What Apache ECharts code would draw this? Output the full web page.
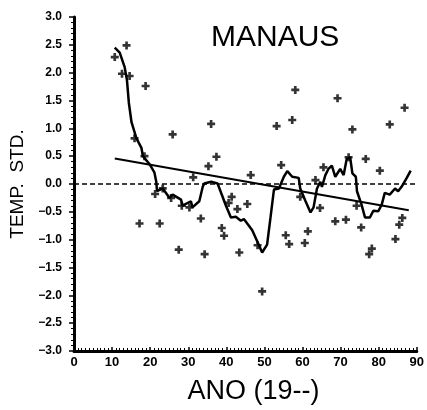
<!DOCTYPE html>
<html><head><meta charset="utf-8">
<script src="https://cdn.jsdelivr.net/npm/echarts@6/dist/echarts.min.js"></script>
<style>html,body{margin:0;padding:0;background:#fff}#c{width:427px;height:410px}</style>
</head><body><div id="c"></div>
<script>
// Annual standardized temperature anomalies (year 19xx, value)
var ptYears = [10.7,11.6,12.6,13.8,14.6,15.9,17.2,18.5,18.8,21.3,22.5,23.3,25.5,25.9,27.5,28.3,30.3,31.3,33.3,34.3,35.3,36.0,37.4,38.8,39.4,40.6,41.4,42.9,43.4,45.5,46.4,48.2,49.4,53.2,54.4,55.6,56.5,57.3,58.1,59.4,60.6,61.4,63.4,64.6,65.5,68.6,69.2,71.4,72.1,73.1,74.2,75.4,76.6,77.5,78.2,80.3,82.9,84.4,85.4,86.2,86.8];
var ptVals  = [2.28,3.03,1.98,2.49,1.94,0.82,-0.71,0.50,1.76,-0.18,-0.71,-0.08,-0.25,0.89,-1.18,-0.39,-0.42,0.12,-0.62,-1.26,0.32,1.08,0.49,-0.79,-0.93,-0.34,-0.23,-0.45,-1.23,-0.36,0.16,-1.10,-1.93,1.04,0.34,-0.92,-1.08,1.15,1.69,-0.23,-1.06,-0.85,0.07,-0.43,0.30,-0.67,1.54,-0.64,0.48,0.98,-0.39,-0.78,0.45,-1.26,-1.16,0.24,1.07,-0.99,-0.73,-0.61,1.37];
// Smoothed curve
var curveX = [10.7,12.0,13.3,13.9,14.4,15.1,16.4,17.7,18.1,19.8,21.1,21.6,21.8,22.3,23.3,25.1,25.9,28.1,28.5,30.7,31.1,32.9,33.8,34.2,36.0,37.7,39.9,41.2,42.5,43.8,44.6,46.8,48.1,49.4,50.7,51.6,52.5,53.8,55.1,56.0,57.3,59.0,59.4,60.8,62.1,62.9,63.8,64.7,65.1,66.0,66.8,67.7,68.6,69.9,70.8,71.6,72.5,73.1,74.0,74.3,75.5,76.4,77.7,78.6,79.9,80.8,81.6,82.9,84.3,85.1,86.0,87.3,88.4];
var curveY = [2.45,2.36,2.10,1.87,1.46,1.11,0.82,0.65,0.50,0.36,0.21,0.04,-0.13,-0.16,-0.08,-0.25,-0.19,-0.28,-0.39,-0.31,-0.42,-0.31,-0.05,0.01,0.04,0.01,-0.39,-0.60,-0.59,-0.66,-0.63,-0.83,-1.03,-1.23,-1.09,-0.60,-0.10,-0.08,0.13,0.23,0.13,0.11,-0.08,-0.31,-0.51,-0.42,-0.08,0.04,-0.05,0.16,0.27,0.33,0.13,0.27,0.16,0.45,0.48,0.19,0.13,-0.13,-0.37,-0.60,-0.60,-0.48,-0.49,-0.37,-0.16,-0.19,-0.08,-0.13,-0.05,0.10,0.24];
// Linear trend endpoints
var trendX = [10.7, 87.9];
var trendY = [0.46, -0.47];
// Zero reference line
var zeroX = [0, 90];
var zeroY = [0, 0];
var xTicks = [0,10,20,30,40,50,60,70,80,90];
var yTicks = [-3.0,-2.5,-2.0,-1.5,-1.0,-0.5,0.0,0.5,1.0,1.5,2.0,2.5,3.0];

function pairs(xs, ys){ return xs.map(function(x,i){ return [x, ys[i]]; }); }

var FONT = 'Liberation Sans';
var chart = echarts.init(document.getElementById('c'), null, {renderer:'canvas'});
chart.setOption({
  backgroundColor:'#fff',
  animation:false,
  title:{ text:'MANAUS', left:206, top:18,
    textStyle:{ fontFamily:FONT, fontSize:30, fontWeight:'normal', color:'#000' } },
  grid:{ left:74, right:9, top:17, bottom:47 },
  xAxis:{ type:'value', min:xTicks[0], max:xTicks[xTicks.length-1], interval:10,
    name:'ANO (19--)', nameLocation:'middle', nameGap:27,
    nameTextStyle:{ fontFamily:FONT, fontSize:27, color:'#000', padding:[0,0,0,16] },
    axisLine:{ show:true, onZero:false, lineStyle:{ color:'#000', width:3 } },
    axisTick:{ show:true, inside:true, length:4, lineStyle:{ color:'#000', width:1.5 } },
    minorTick:{ show:true, splitNumber:10, length:3, lineStyle:{ color:'#000', width:1 } },
    axisLabel:{ fontFamily:FONT, fontSize:13, fontWeight:'bold', color:'#000', margin:5 },
    splitLine:{ show:false } },
  yAxis:{ type:'value', min:yTicks[0], max:yTicks[yTicks.length-1], interval:0.5,
    name:'TEMP.  STD.', nameLocation:'middle', nameGap:47, nameRotate:90,
    nameTextStyle:{ fontFamily:FONT, fontSize:19, color:'#000' },
    axisLine:{ show:true, onZero:false, lineStyle:{ color:'#000', width:3 } },
    axisTick:{ show:true, inside:false, length:5, lineStyle:{ color:'#000', width:1.5 } },
    minorTick:{ show:true, splitNumber:5, length:3, lineStyle:{ color:'#000', width:1 } },
    axisLabel:{ fontFamily:FONT, fontSize:12, fontWeight:'bold', color:'#000', margin:12,
      formatter:function(v){ return v.toFixed(1).replace('-', '\u2212'); } },
    splitLine:{ show:false } },
  series:[
    { type:'line', data:pairs(zeroX, zeroY), symbol:'none', silent:true,
      lineStyle:{ color:'#000', width:1.5, type:[5,3] } },
    { type:'line', data:pairs(trendX, trendY), symbol:'none',
      lineStyle:{ color:'#000', width:2 } },
    { type:'line', data:pairs(curveX, curveY), symbol:'none',
      lineStyle:{ color:'#000', width:2.5 } },
    { type:'scatter', data:pairs(ptYears, ptVals), symbolSize:8,
      symbol:'path://M3,0h3v3h3v3h-3v3h-3v-3h-3v-3h3z',
      itemStyle:{ color:'#000' } }
  ]
});
</script></body></html>
